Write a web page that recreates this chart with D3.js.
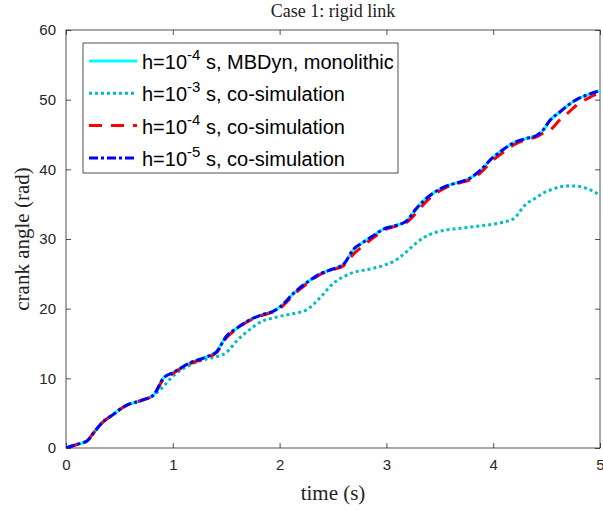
<!DOCTYPE html>
<html>
<head>
<meta charset="utf-8">
<script src="https://cdn.jsdelivr.net/npm/d3@7"></script>
<style>
  body { margin: 0; background: #fff; }
  svg { display: block; }
</style>
</head>
<body>
<div id="graph"></div>
<script>
// sample times (s)
var times = [0, 0.1, 0.2, 0.25, 0.33, 0.45, 0.55, 0.72, 0.82, 0.91, 1.0, 1.16, 1.32, 1.41, 1.5, 1.6, 1.72, 1.85, 1.95, 2.03,
  2.13, 2.25, 2.38, 2.5, 2.6, 2.69, 2.78, 2.88, 2.97, 3.08, 3.19, 3.27, 3.35, 3.45, 3.56, 3.67, 3.78, 3.88, 3.99, 4.09,
  4.19, 4.3, 4.41, 4.47, 4.53, 4.63, 4.7, 4.78, 4.9, 5.0];

// crank angle (rad) per run
var monolithic = [0, 0.5, 1.05, 2.0, 3.5, 4.9, 6.0, 6.9, 7.6, 10.0, 10.8, 12.2, 13.1, 13.8, 16.0, 17.2, 18.4, 19.2, 19.7, 20.6,
  22.2, 23.7, 25.0, 25.7, 26.4, 28.4, 29.5, 30.5, 31.4, 31.9, 32.6, 34.1, 35.5, 36.7, 37.6, 38.1, 38.7, 39.8, 41.6, 42.8,
  43.8, 44.4, 44.9, 45.6, 47.0, 48.3, 49.2, 50.0, 50.8, 51.3];
var cosim3 = [0, 0.5, 1.05, 2.0, 3.5, 4.9, 6.0, 6.9, 7.6, 8.8, 10.3, 11.9, 12.8, 13.1, 13.7, 15.4, 17.0, 18.3, 18.7, 19.0,
  19.3, 19.8, 21.6, 23.6, 24.6, 25.2, 25.5, 25.8, 26.2, 26.9, 28.2, 29.3, 30.2, 30.9, 31.3, 31.5, 31.7, 31.9, 32.1, 32.4,
  32.9, 34.9, 36.0, 36.6, 37.0, 37.5, 37.6, 37.6, 37.1, 36.3];
var cosim4 = [0, 0.5, 1.05, 2.0, 3.5, 4.9, 6.0, 6.9, 7.6, 9.8, 10.7, 12.1, 13.0, 13.7, 15.8, 17.1, 18.3, 19.1, 19.6, 20.4,
  22.0, 23.5, 24.9, 25.6, 26.2, 27.8, 29.0, 30.2, 31.2, 31.8, 32.4, 33.6, 35.0, 36.4, 37.4, 38.0, 38.5, 39.5, 41.2, 42.4,
  43.5, 44.2, 44.7, 45.2, 45.6, 47.2, 48.1, 49.2, 50.3, 51.0];
var cosim5 = [0, 0.5, 1.05, 2.0, 3.5, 4.9, 6.0, 6.9, 7.6, 10.0, 10.8, 12.2, 13.1, 13.8, 16.0, 17.2, 18.4, 19.2, 19.7, 20.6,
  22.2, 23.7, 25.0, 25.7, 26.4, 28.5, 29.5, 30.5, 31.4, 31.9, 32.6, 34.2, 35.5, 36.7, 37.6, 38.1, 38.7, 39.9, 41.6, 42.8,
  43.8, 44.4, 44.9, 45.7, 47.0, 48.3, 49.2, 50.0, 50.8, 51.3];

var xTicks = [0, 1, 2, 3, 4, 5];
var yTicks = [0, 10, 20, 30, 40, 50, 60];

var series = [
  {values: monolithic, exp: '-4', rest: ' s, MBDyn, monolithic', color: '#00ffff', dash: null},
  {values: cosim3, exp: '-3', rest: ' s, co-simulation', color: '#00bfbf', dash: '3,3'},
  {values: cosim4, exp: '-4', rest: ' s, co-simulation', color: '#ff0000', dash: '13,9'},
  {values: cosim5, exp: '-5', rest: ' s, co-simulation', color: '#0000ff', dash: '9,3,3,3'}
];

var W = 603, H = 510;
var margin = {left: 66, right: 3, top: 30, bottom: 62};

var svg = d3.select('#graph').append('svg')
    .attr('width', W)
    .attr('height', H);

var x = d3.scaleLinear().domain([0, 5]).range([margin.left, W - margin.right]);
var y = d3.scaleLinear().domain([0, 60]).range([H - margin.bottom, margin.top]);

var axisColor = '#262626';
var tickFont = '15px "Liberation Sans", Arial, sans-serif';
var fmt = d3.format('d');

function styleAxis(g) {
  g.select('.domain').remove();
  g.selectAll('.tick line').attr('stroke', axisColor).attr('stroke-width', 0.8);
  g.selectAll('.tick text').attr('fill', axisColor).style('font', tickFont);
}

svg.append('g')
    .attr('transform', 'translate(0,' + y(0) + ')')
    .call(d3.axisBottom(x).tickValues(xTicks).tickFormat(fmt).tickSizeInner(-5).tickSizeOuter(0).tickPadding(11))
    .call(styleAxis);
svg.append('g')
    .attr('transform', 'translate(0,' + y(60) + ')')
    .call(d3.axisTop(x).tickValues(xTicks).tickSizeInner(-5).tickSizeOuter(0).tickFormat(''))
    .call(styleAxis);
svg.append('g')
    .attr('transform', 'translate(' + x(0) + ',0)')
    .call(d3.axisLeft(y).tickValues(yTicks).tickFormat(fmt).tickSizeInner(-5).tickSizeOuter(0).tickPadding(10))
    .call(styleAxis);
svg.append('g')
    .attr('transform', 'translate(' + x(5) + ',0)')
    .call(d3.axisRight(y).tickValues(yTicks).tickSizeInner(-5).tickSizeOuter(0).tickFormat(''))
    .call(styleAxis);

svg.append('rect')
    .attr('x', x(0)).attr('y', y(60))
    .attr('width', x(5) - x(0)).attr('height', y(0) - y(60))
    .attr('fill', 'none').attr('stroke', axisColor).attr('stroke-width', 0.8);

var line = d3.line()
    .x(function(d, i) { return x(times[i]); })
    .y(function(d) { return y(d); })
    .curve(d3.curveMonotoneX);

svg.append('defs').append('clipPath').attr('id', 'clip')
  .append('rect')
    .attr('x', x(0)).attr('y', y(60))
    .attr('width', x(5) - x(0)).attr('height', y(0) - y(60));

svg.append('g').attr('clip-path', 'url(#clip)')
  .selectAll('path')
    .data(series)
  .enter().append('path')
    .attr('d', function(d) { return line(d.values); })
    .attr('fill', 'none')
    .attr('stroke', function(d) { return d.color; })
    .attr('stroke-width', 3)
    .attr('stroke-dasharray', function(d) { return d.dash; });

// title and axis labels
var serif = '"Liberation Serif", "Times New Roman", serif';
svg.append('text')
    .attr('x', (x(0) + x(5)) / 2).attr('y', 17)
    .attr('text-anchor', 'middle')
    .attr('fill', '#222')
    .style('font-family', serif).style('font-size', '18px')
    .text('Case 1:  rigid link');
svg.append('text')
    .attr('x', (x(0) + x(5)) / 2).attr('y', 500)
    .attr('text-anchor', 'middle')
    .attr('fill', '#222')
    .style('font-family', serif).style('font-size', '21px')
    .text('time (s)');
svg.append('text')
    .attr('transform', 'translate(29,' + ((y(0) + y(60)) / 2) + ') rotate(-90)')
    .attr('text-anchor', 'middle')
    .attr('fill', '#222')
    .style('font-family', serif).style('font-size', '21px')
    .text('crank angle (rad)');

// legend
var legend = svg.append('g');
legend.append('rect')
    .attr('x', 83).attr('y', 43)
    .attr('width', 315).attr('height', 130)
    .attr('fill', '#fff').attr('stroke', axisColor).attr('stroke-width', 0.8);

var rows = legend.selectAll('.row')
    .data(series)
  .enter().append('g')
    .attr('class', 'row')
    .attr('transform', function(d, i) { return 'translate(0,' + (61 + i * 32.3) + ')'; });

rows.append('line')
    .attr('x1', 89).attr('x2', 137)
    .attr('stroke', function(d) { return d.color; })
    .attr('stroke-width', 3)
    .attr('stroke-dasharray', function(d) { return d.dash; });

var lt = rows.append('text')
    .attr('x', 142).attr('y', 8)
    .attr('fill', '#000')
    .style('font', '20px "Liberation Sans", Arial, sans-serif');
lt.append('tspan').text('h=10');
lt.append('tspan').attr('dy', -9).style('font-size', '15px').text(function(d) { return d.exp; });
lt.append('tspan').attr('dy', 9).text(function(d) { return d.rest; });
</script>
</body>
</html>
